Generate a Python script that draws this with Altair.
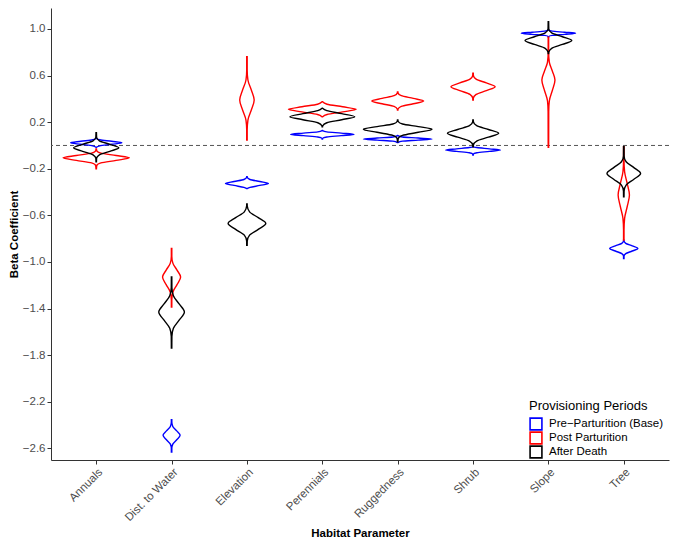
import json
import altair as alt
import pandas as pd

params = ["Annuals", "Dist. to Water", "Elevation", "Perennials",
          "Ruggedness", "Shrub", "Slope", "Tree"]
periods = ["Pre\u2212Parturition (Base)", "Post Parturition", "After Death"]
colors = ["#0000FF", "#FF0000", "#000000"]

# Violin outlines: y positions (beta) and half-widths
# (in category units) for each habitat parameter, top to bottom.
pre_y = [
    [0.06, 0.049, 0.036, 0.023, 0.010, -0.003, -0.016],
    [-2.353, -2.374, -2.412, -2.45, -2.488, -2.526, -2.564, -2.602, -2.631],
    [-0.269, -0.275, -0.292, -0.309, -0.326, -0.343, -0.36, -0.37],
    [0.128, 0.117, 0.106, 0.095, 0.084, 0.073, 0.062, 0.055],
    [0.085, 0.073, 0.064, 0.055, 0.046, 0.037, 0.025],
    [-0.012, -0.018, -0.029, -0.04, -0.051, -0.062, -0.073, -0.082],
    [0.99, 0.981, 0.972, 0.963, 0.954, 0.945, 0.936, 0.93],
    [-0.813, -0.818, -0.84, -0.862, -0.884, -0.906, -0.928, -0.95, -0.97],
]
pre_w = [
    [0.003, 0.048, 0.204, 0.34, 0.204, 0.048, 0.003],
    [0.003, 0.003, 0.016, 0.068, 0.113, 0.068, 0.016, 0.003, 0.003],
    [0.003, 0.005, 0.04, 0.171, 0.285, 0.171, 0.04, 0.003],
    [0.003, 0.06, 0.25, 0.42, 0.25, 0.06, 0.006, 0.003],
    [0.003, 0.064, 0.273, 0.455, 0.273, 0.064, 0.003],
    [0.003, 0.051, 0.218, 0.364, 0.218, 0.051, 0.005, 0.003],
    [0.003, 0.05, 0.216, 0.36, 0.216, 0.05, 0.005, 0.003],
    [0.003, 0.003, 0.026, 0.112, 0.187, 0.112, 0.026, 0.003, 0.003],
]
post_y = [
    [-0.03, -0.046, -0.066, -0.086, -0.106, -0.128, -0.15, -0.172, -0.2],
    [-0.884, -0.95, -1.01, -1.07, -1.13, -1.195, -1.26, -1.325, -1.386],
    [0.762, 0.648, 0.562, 0.476, 0.39, 0.304, 0.218, 0.132, 0.046],
    [0.376, 0.354, 0.332, 0.31, 0.288, 0.266, 0.247],
    [0.46, 0.45, 0.427, 0.404, 0.381, 0.358, 0.335, 0.312, 0.304],
    [0.62, 0.603, 0.57, 0.537, 0.504, 0.471, 0.438, 0.405, 0.39],
    [0.93, 0.793, 0.716, 0.639, 0.562, 0.472, 0.382, 0.292, -0.016],
    [-0.011, -0.126, -0.226, -0.326, -0.426, -0.526, -0.626, -0.726, -0.813],
]
post_w = [
    [0.003, 0.007, 0.062, 0.264, 0.44, 0.264, 0.062, 0.007, 0.003],
    [0.003, 0.003, 0.017, 0.072, 0.12, 0.072, 0.017, 0.003, 0.003],
    [0.003, 0.003, 0.013, 0.058, 0.096, 0.058, 0.013, 0.003, 0.003],
    [0.003, 0.063, 0.27, 0.45, 0.27, 0.063, 0.005],
    [0.003, 0.005, 0.048, 0.207, 0.345, 0.207, 0.048, 0.005, 0.003],
    [0.003, 0.004, 0.041, 0.176, 0.293, 0.176, 0.041, 0.004, 0.003],
    [0.003, 0.003, 0.012, 0.052, 0.087, 0.052, 0.012, 0.004, 0.003],
    [0.003, 0.003, 0.011, 0.045, 0.075, 0.045, 0.011, 0.003, 0.003],
]
death_y = [
    [0.11, 0.07, 0.04, 0.01, -0.02, -0.05, -0.08, -0.11, -0.14],
    [-1.128, -1.22, -1.29, -1.36, -1.43, -1.50, -1.57, -1.64, -1.738],
    [-0.503, -0.52, -0.57, -0.62, -0.67, -0.72, -0.77, -0.82, -0.856],
    [0.32, 0.299, 0.273, 0.247, 0.221, 0.195, 0.169, 0.16],
    [0.218, 0.206, 0.184, 0.162, 0.14, 0.113, 0.086, 0.059, 0.032],
    [0.218, 0.203, 0.17, 0.137, 0.104, 0.071, 0.038, 0.005, -0.011],
    [1.063, 0.999, 0.966, 0.933, 0.90, 0.867, 0.834, 0.801, 0.79],
    [-0.011, -0.09, -0.14, -0.19, -0.24, -0.29, -0.34, -0.39, -0.44],
]
death_w = [
    [0.003, 0.005, 0.042, 0.18, 0.30, 0.18, 0.042, 0.005, 0.003],
    [0.003, 0.004, 0.024, 0.10, 0.17, 0.10, 0.024, 0.004, 0.003],
    [0.003, 0.004, 0.035, 0.15, 0.25, 0.15, 0.035, 0.004, 0.003],
    [0.003, 0.06, 0.258, 0.43, 0.258, 0.06, 0.006, 0.003],
    [0.003, 0.007, 0.064, 0.273, 0.455, 0.273, 0.064, 0.007, 0.003],
    [0.003, 0.005, 0.048, 0.204, 0.34, 0.204, 0.048, 0.005, 0.003],
    [0.003, 0.005, 0.043, 0.186, 0.31, 0.186, 0.043, 0.005, 0.003],
    [0.003, 0.004, 0.031, 0.134, 0.223, 0.134, 0.031, 0.004, 0.003],
]

y_ticks = [1.0, 0.6, 0.2, -0.2, -0.6, -1.0, -1.4, -1.8, -2.2, -2.6]

rows = []
for period, ys, ws in zip(periods, [pre_y, post_y, death_y], [pre_w, post_w, death_w]):
    for k, name in enumerate(params):
        for y, w in zip(ys[k], ws[k]):
            rows.append({"param": name, "idx": k + 1, "period": period, "y": y, "w": w})
df = pd.DataFrame(rows)

label_expr = json.dumps(params) + "[datum.value - 1]"
FONT = "Liberation Sans"

y_scale = alt.Scale(domain=[-2.70, 1.18], nice=False, zero=False)
x_scale = alt.Scale(domain=[0.4, 8.6], nice=False, zero=False)

zero_line = alt.Chart(pd.DataFrame({"y": [0.0]})).mark_rule(
    strokeDash=[4, 3], color="#555555", strokeWidth=1
).encode(y=alt.Y("y:Q", scale=y_scale))

violins = alt.Chart(df).transform_calculate(
    xl="datum.idx - datum.w", xr="datum.idx + datum.w"
).mark_area(
    orient="horizontal", interpolate="monotone", filled=False, strokeWidth=1.4
).encode(
    y=alt.Y("y:Q", scale=y_scale,
            axis=alt.Axis(values=y_ticks, format=".1f", title="Beta Coefficient",
                          grid=False, titlePadding=3)),
    x=alt.X("xl:Q", scale=x_scale,
            axis=alt.Axis(values=list(range(1, 9)), labelExpr=label_expr,
                          labelAngle=-45, title="Habitat Parameter", grid=False,
                          titlePadding=4)),
    x2="xr:Q",
    color=alt.Color("period:N", scale=alt.Scale(domain=periods, range=colors),
                    legend=alt.Legend(title="Provisioning Periods", orient="none",
                                      legendX=478, legendY=392,
                                      symbolType="square", symbolSize=140,
                                      symbolStrokeWidth=1.6, symbolFillColor="white",
                                      labelFontSize=11.5, titleFontSize=13,
                                      titleFontWeight="normal", rowPadding=0,
                                      clipHeight=14, titlePadding=4,
                                      labelOffset=6)),
    detail="param:N",
)

chart = alt.layer(zero_line, violins).properties(
    width=618, height=452, padding=0
).configure_view(stroke=None).configure_axis(
    labelFont=FONT, titleFont=FONT, labelFontSize=11.5, titleFontSize=11.5,
    labelColor="#4D4D4D", titleColor="#000000", titleFontWeight="bold",
    domainColor="#333333", tickColor="#333333", tickSize=4, labelPadding=2,
).configure_legend(labelFont=FONT, titleFont=FONT, labelColor="#000000",
                   titleColor="#000000")

chart.save("out.html", embed_options={"renderer": "svg", "actions": False})
